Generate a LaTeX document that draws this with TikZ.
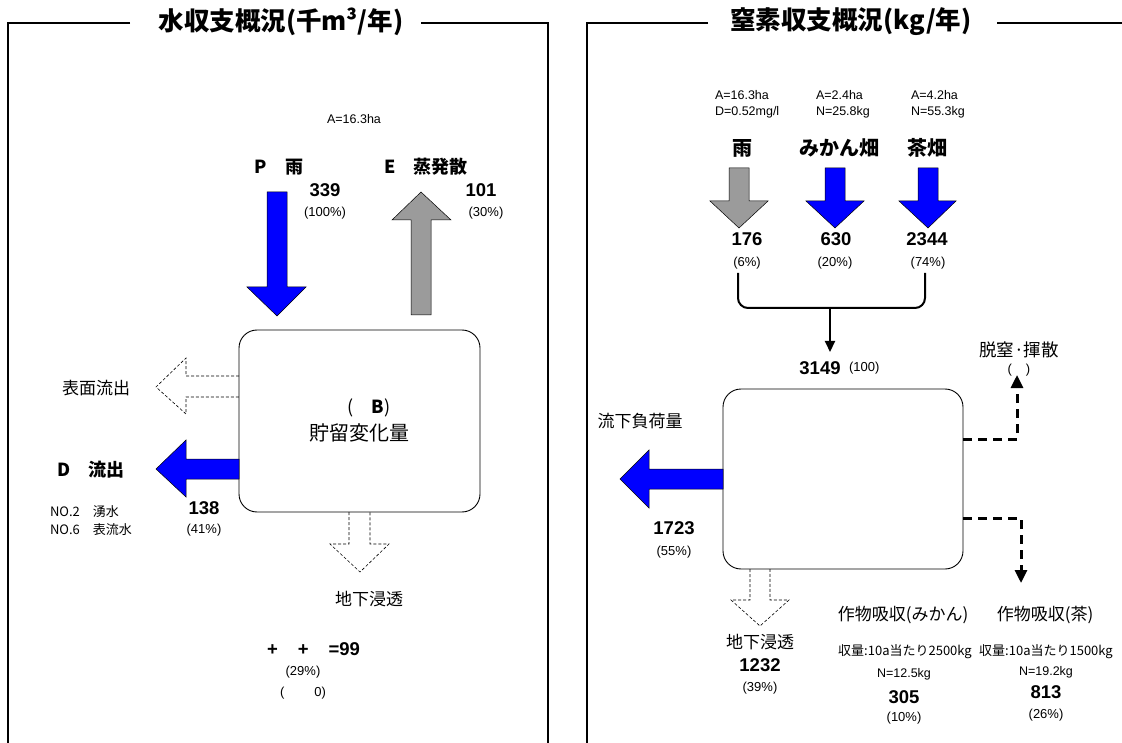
\documentclass[tikz,border=0pt]{standalone}
\usepackage{fontspec}
\setmainfont{Liberation Sans}
\newfontfamily\jp{Noto Sans CJK JP}
\usetikzlibrary{arrows.meta}
\definecolor{ablue}{RGB}{0,0,255}
\definecolor{agray}{RGB}{155,155,155}
\begin{document}
\begin{tikzpicture}[x=1pt,y=-1pt,
  every node/.style={inner sep=0pt, outer sep=0pt},
  frame/.style={line width=1.6pt},
  title/.style={font=\jp\bfseries\fontsize{25.5}{27}\selectfont},
  jlbl/.style={font=\jp\fontsize{17}{19}\selectfont},
  jbold/.style={font=\jp\bfseries\fontsize{18}{20}\selectfont},
  jboldR/.style={font=\jp\bfseries\fontsize{20}{22}\selectfont},
  bnum/.style={font=\bfseries\fontsize{18.5}{20}\selectfont},
  pct/.style={font=\fontsize{13}{15}\selectfont},
  small/.style={font=\fontsize{12.5}{14}\selectfont},
  jsmall/.style={font=\jp\fontsize{13}{15}\selectfont},
  jyield/.style={font=\jp\fontsize{13}{15}\selectfont},
  blockblue/.style={draw=black, line width=0.5pt, fill=ablue},
  blockgray/.style={draw=black, line width=0.5pt, fill=agray},
  hollow/.style={draw=black, line width=0.6pt, dash pattern=on 3pt off 2pt},
  store/.style={draw=black, line width=0.9pt, rounded corners=18pt},
  bracket/.style={line width=2pt, rounded corners=10pt},
  thickdash/.style={line width=3pt, dash pattern=on 9pt off 6pt},
  tip/.style={-{Triangle[length=13pt,width=12pt]}},
]
\useasboundingbox (0,0) rectangle (1122,743);

% ---------------- left panel ----------------
\draw[frame] (130,23) -- (8,23) -- (8,743);
\draw[frame] (421,23) -- (548,23) -- (548,743);
\node[title] (t1) at (281,22) {水収支概況(千m³/年)};

\node[small] (area1) at (354,119) {A=16.3ha};
\node[jbold] (rainL) at (279,167) {P　雨};
\node[bnum] (n339) at (325,190) {339};
\node[pct] (p100) at (325,213) {(100\%)};
\node[jbold] (evapL) at (426,167) {E　蒸発散};
\node[bnum] (n101) at (481,190) {101};
\node[pct] (p30) at (486,213) {(30\%)};

\node[store, minimum width=241pt, minimum height=182pt] (box1) at (359.5,421) {};
\node[font=\jp\fontsize{18}{20}\selectfont] (bL) at (369,408) {(\quad{\bfseries B})};
\node[font=\jp\fontsize{20}{22}\selectfont] (chg) at (359,433) {貯留変化量};

% rain arrow (P)
\draw[blockblue] (267,192) -- (287,192) -- (287,287) -- (306,287) -- (277,316) -- (247,287) -- (267,287) -- cycle;
% evapotranspiration arrow (E)
\draw[blockgray] (411,315) -- (431,315) -- (431,220) -- (451,220) -- (421,192) -- (392,220) -- (411,220) -- cycle;
% surface runoff (dashed hollow)
\draw[hollow] (239,376) -- (186,376) -- (186,358) -- (156,387) -- (186,414) -- (186,397) -- (239,397);
\node[jlbl] (surf) at (96,388) {表面流出};
% outflow D
\draw[blockblue] (239,459) -- (186,459) -- (186,440) -- (156,469) -- (186,497) -- (186,479) -- (239,479) -- cycle;
\node[jbold] (outL) at (91,470) {D　流出};
\node[jsmall, anchor=west] (no2) at (50,512) {NO.2　湧水};
\node[jsmall, anchor=west] (no6) at (50,530) {NO.6　表流水};
\node[bnum] (n138) at (204,508) {138};
\node[pct] (p41) at (204,530) {(41\%)};
% infiltration (dashed hollow)
\draw[hollow] (349,512) -- (349,544) -- (330,544) -- (360,572) -- (389,544) -- (370,544) -- (370,512);
\node[jlbl] (gwL) at (369,599) {地下浸透};
\node[bnum, anchor=west] (sum) at (267,649) {+\hspace{20pt}+\hspace{20pt}=99};
\node[pct] (p29) at (303,672) {(29\%)};
\node[pct] (p0) at (303,693) {(\hspace{30pt}0)};

% ---------------- right panel ----------------
\draw[frame] (708,23) -- (587,23) -- (587,743);
\draw[frame] (997,23) -- (1122,23);
\node[title] (t2) at (851,22) {窒素収支概況(kg/年)};

\node[small, anchor=west] (a1) at (715,95) {A=16.3ha};
\node[small, anchor=west] (d1) at (715,112) {D=0.52mg/l};
\node[small, anchor=west] (a2) at (816,95) {A=2.4ha};
\node[small, anchor=west] (n2) at (816,112) {N=25.8kg};
\node[small, anchor=west] (a3) at (911,95) {A=4.2ha};
\node[small, anchor=west] (n3) at (911,112) {N=55.3kg};

\node[jboldR] (rainR) at (742,148) {雨};
\node[jboldR] (mikan) at (839,148) {みかん畑};
\node[jboldR] (cha) at (927,148) {茶畑};

\draw[blockgray] (729,168) -- (749,168) -- (749,201) -- (768,201) -- (739,228) -- (710,201) -- (729,201) -- cycle;
\draw[blockblue] (825,168) -- (845,168) -- (845,201) -- (864,201) -- (835,228) -- (806,201) -- (825,201) -- cycle;
\draw[blockblue] (918,168) -- (938,168) -- (938,201) -- (956,201) -- (928,228) -- (899,201) -- (918,201) -- cycle;

\node[bnum] (n176) at (747,239) {176};
\node[pct] (p6) at (747,263) {(6\%)};
\node[bnum] (n630) at (836,239) {630};
\node[pct] (p20) at (835,263) {(20\%)};
\node[bnum] (n2344) at (927,239) {2344};
\node[pct] (p74) at (928,263) {(74\%)};

\draw[bracket] (738,273) |- (925,308) -- (925,273);
\coordinate (join) at (830,308);
\coordinate (intip) at (830,352);
\draw[line width=2pt, -{Triangle[length=11pt,width=10pt]}] (join) -- (intip);

\node[bnum] (n3149) at (820,368) {3149};
\node[pct, anchor=west] (p100r) at (849,368) {(100)};

\node[store, minimum width=240pt, minimum height=180pt] (box2) at (843,479) {};

\node[font=\jp\fontsize{17.5}{19}\selectfont] (denit) at (1019,350) {脱窒·揮散};
\node[pct] (pd) at (1019,370) {(\hspace{14pt})};
\coordinate (dtip) at (1017,375);
\coordinate (dcorner) at (1017,439);
\draw[thickdash, tip] ([yshift=40pt]box2.east) -- (dcorner) -- (dtip);

\coordinate (ccorner) at (1021,518);
\coordinate (ctip) at (1021,583);
\draw[thickdash, tip] ([yshift=-39pt]box2.east) -- (ccorner) -- (ctip);

\node[jlbl] (runoff) at (640,421) {流下負荷量};
\draw[blockblue] (723,469) -- (649,469) -- (649,450) -- (620,479) -- (649,508) -- (649,489) -- (723,489) -- cycle;
\node[bnum] (n1723) at (674,528) {1723};
\node[pct] (p55) at (674,552) {(55\%)};

\draw[hollow] (750,569) -- (750,600) -- (731,600) -- (760,626) -- (789,600) -- (770,600) -- (770,569);
\node[jlbl] (gwR) at (760,642) {地下浸透};
\node[bnum] (n1232) at (760,665) {1232};
\node[pct] (p39) at (760,688) {(39\%)};

\node[jlbl] (cropM) at (903,615) {作物吸収(みかん)};
\node[jlbl] (cropT) at (1045,615) {作物吸収(茶)};
\node[jyield] (yM) at (905,652) {収量:10a当たり2500kg};
\node[jyield] (yT) at (1046,652) {収量:10a当たり1500kg};
\node[small] (nM) at (904,674) {N=12.5kg};
\node[small] (nT) at (1046,672) {N=19.2kg};
\node[bnum] (n305) at (904,697) {305};
\node[pct] (p10) at (904,718) {(10\%)};
\node[bnum] (n813) at (1046,692) {813};
\node[pct] (p26) at (1046,715) {(26\%)};
\end{tikzpicture}
\end{document}
